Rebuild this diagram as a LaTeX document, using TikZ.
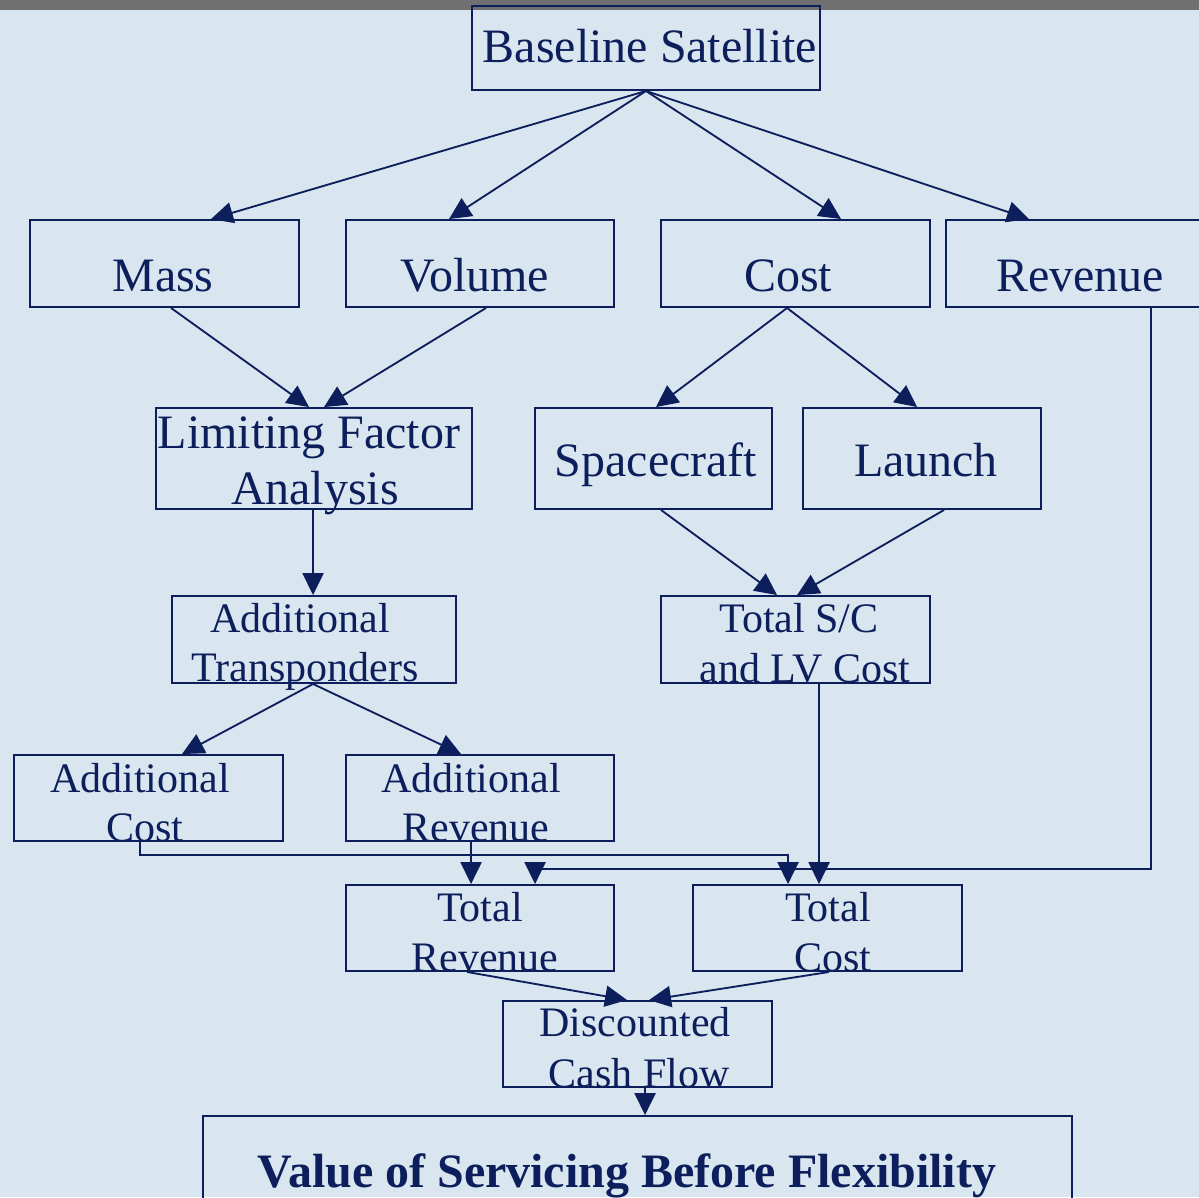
\documentclass[tikz,border=0pt]{standalone}
\usepackage{fontspec}
\setmainfont{Liberation Serif}
\usetikzlibrary{arrows.meta,calc,fit}

\definecolor{navy}{RGB}{12,30,92}
\definecolor{paleblue}{RGB}{217,230,239}
\definecolor{bargray}{RGB}{112,112,112}

\tikzset{
  box/.style={draw=navy, line width=1.1pt, inner sep=0pt, rectangle},
  flow/.style={draw=navy, line width=1.05pt, -{Triangle[length=12.5pt,width=12pt]}},
  big/.style={text=navy, anchor=base, inner sep=0pt, font=\fontsize{27.3}{31}\selectfont},
  small/.style={text=navy, anchor=base, inner sep=0pt, font=\fontsize{23.9}{28}\selectfont},
}

\begin{document}
\begin{tikzpicture}[x=0.02cm,y=-0.02cm]
  \useasboundingbox (0,0) rectangle (1199,1197);
  \fill[paleblue] (0,0) rectangle (1199,1197);
  \fill[bargray] (0,0) rectangle (1199,10);

  % boxes
  \node[box, fit={(472,6) (820,90)}] (base) {};
  \node[box, fit={(30,220) (299,307)}] (mass) {};
  \node[box, fit={(346,220) (614,307)}] (vol) {};
  \node[box, fit={(661,220) (930,307)}] (cost) {};
  \node[box, fit={(946,220) (1210,307)}] (rev) {};
  \node[box, fit={(156,408) (472,509)}] (lfa) {};
  \node[box, fit={(535,408) (772,509)}] (sc) {};
  \node[box, fit={(803,408) (1041,509)}] (lau) {};
  \node[box, fit={(172,596) (456,683)}] (at) {};
  \node[box, fit={(661,596) (930,683)}] (tsc) {};
  \node[box, fit={(14,755) (283,841)}] (ac) {};
  \node[box, fit={(346,755) (614,841)}] (ar) {};
  \node[box, fit={(346,885) (614,971)}] (tr) {};
  \node[box, fit={(693,885) (962,971)}] (tc) {};
  \node[box, fit={(503,1001) (772,1087)}] (dcf) {};
  \node[box, fit={(203,1116) (1072,1215)}] (val) {};

  % texts
  \node[big] (baseT) at (650,62) {Baseline Satellite};
  \node[big] (massT) at (163,291) {Mass};
  \node[big] (volT) at (475,291) {Volume};
  \node[big] (costT) at (788,291) {Cost};
  \node[big] (revT) at (1080,291) {Revenue};
  \node[big] (lfaT1) at (309,448) {Limiting Factor};
  \node[big] (lfaT2) at (315,504) {Analysis};
  \node[big] (scT) at (656,476) {Spacecraft};
  \node[big] (lauT) at (926,476) {Launch};
  \node[small] (atT1) at (300,632) {Additional};
  \node[small] (atT2) at (305,681) {Transponders};
  \node[small] (tscT1) at (799,632) {Total S/C};
  \node[small] (tscT2) at (805,682) {and LV Cost};
  \node[small] (acT1) at (140,792) {Additional};
  \node[small] (acT2) at (145,841) {Cost};
  \node[small] (arT1) at (471,792) {Additional};
  \node[small] (arT2) at (476,841) {Revenue};
  \node[small] (trT1) at (480,921) {Total};
  \node[small] (trT2) at (485,971) {Revenue};
  \node[small] (tcT1) at (828,921) {Total};
  \node[small] (tcT2) at (833,971) {Cost};
  \node[small] (dcfT1) at (635,1036) {Discounted};
  \node[small] (dcfT2) at (639,1087) {Cash Flow};
  \node[big, font=\bfseries\fontsize{27.3}{31}\selectfont] (valT) at (627,1187) {Value of Servicing Before Flexibility};

  % connectors
  \draw[flow] (base.south) -- ($(mass.north west)+(182,0)$);
  \draw[flow] (base.south) -- ($(vol.north west)+(104,0)$);
  \draw[flow] (base.south) -- ($(cost.north west)+(181,0)$);
  \draw[flow] (base.south) -- ($(rev.north west)+(84,0)$);

  \draw[flow] ($(mass.south west)+(142,0)$) -- ($(lfa.north west)+(154,0)$);
  \draw[flow] ($(vol.south west)+(141,0)$) -- ($(lfa.north west)+(169,0)$);
  \draw[flow] ($(cost.south west)+(127,0)$) -- ($(sc.north west)+(122,0)$);
  \draw[flow] ($(cost.south west)+(127,0)$) -- ($(lau.north west)+(115,0)$);

  \draw[flow] ($(lfa.south west)+(158,0)$) -- ($(at.north west)+(142,0)$);
  \draw[flow] ($(sc.south west)+(127,0)$) -- ($(tsc.north west)+(117,0)$);
  \draw[flow] ($(lau.south west)+(142,0)$) -- ($(tsc.north west)+(137,0)$);

  \draw[flow] ($(at.south west)+(142,0)$) -- ($(ac.north west)+(169,0)$);
  \draw[flow] ($(at.south west)+(142,0)$) -- ($(ar.north west)+(116,0)$);
  \draw[flow] ($(tsc.south west)+(159,0)$) -- ($(tc.north west)+(127,0)$);

  \draw[flow] ($(rev.south west)+(206,0)$) |- ($(tr.north west)+(190,-15)$) -- ($(tr.north west)+(190,0)$);
  \draw[flow] ($(ac.south west)+(127,0)$) |- ($(tc.north west)+(96,-29)$) -- ($(tc.north west)+(96,0)$);
  \draw[flow] ($(ar.south west)+(126,0)$) -- ($(tr.north west)+(126,0)$);

  \draw[flow] ($(tr.south west)+(122,0)$) -- ($(dcf.north west)+(125,0)$);
  \draw[flow] ($(tc.south west)+(137,0)$) -- ($(dcf.north west)+(147,0)$);
  \draw[flow] ($(dcf.south west)+(143,0)$) -- ($(val.north west)+(443,0)$);
\end{tikzpicture}
\end{document}
